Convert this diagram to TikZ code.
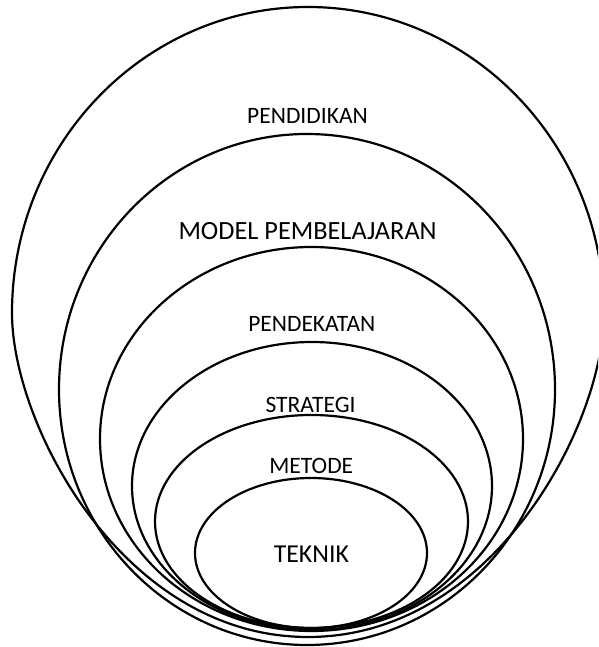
\documentclass[tikz,border=0pt]{standalone}
\usepackage{fontspec}
\setmainfont{Carlito}
\begin{document}
\begin{tikzpicture}[x=1pt,y=1pt,
  ring/.style={draw=black,line width=2.2pt},
  lbl/.style={inner sep=0pt,anchor=base,text=black},
  lblA/.style={lbl,font=\fontsize{23.5}{28}\selectfont},
  lblB/.style={lbl,font=\fontsize{26.3}{31}\selectfont},
  lblC/.style={lbl,font=\fontsize{25.8}{31}\selectfont}]
\useasboundingbox (0,0) rectangle (598,647);
\clip (0,0) rectangle (598,647);
% outer (PENDIDIKAN)
\draw[ring] (12,334) arc[start angle=180,end angle=0,x radius=296pt,y radius=306pt]
  .. controls (604,222) and (493,10) .. (308,10)
  .. controls (123,10) and (12,222) .. (12,334) -- cycle;
% MODEL PEMBELAJARAN
\draw[ring] (307,257.5) ellipse [x radius=248pt,y radius=255.5pt];
% PENDEKATAN
\draw[ring] (311.5,208) ellipse [x radius=211.5pt,y radius=192pt];
% STRATEGI
\draw[ring] (312,161) ellipse [x radius=180pt,y radius=144pt];
% METODE
\draw[ring] (311.5,125.5) ellipse [x radius=156.5pt,y radius=106.5pt];
% TEKNIK
\draw[ring] (311,94) ellipse [x radius=116pt,y radius=75pt];
% labels
\node[lblA] (pendidikan) at (307.5,523) {PENDIDIKAN};
\node[lblB] (model) at (307.6,407) {MODEL PEMBELAJARAN};
\node[lblA] (pendekatan) at (311.8,315) {PENDEKATAN};
\node[lblA] (strategi) at (310.6,234.5) {STRATEGI};
\node[lblA] (metode) at (311.3,173.4) {METODE};
\node[lblC] (teknik) at (311.4,84) {TEKNIK};
\end{tikzpicture}
\end{document}
